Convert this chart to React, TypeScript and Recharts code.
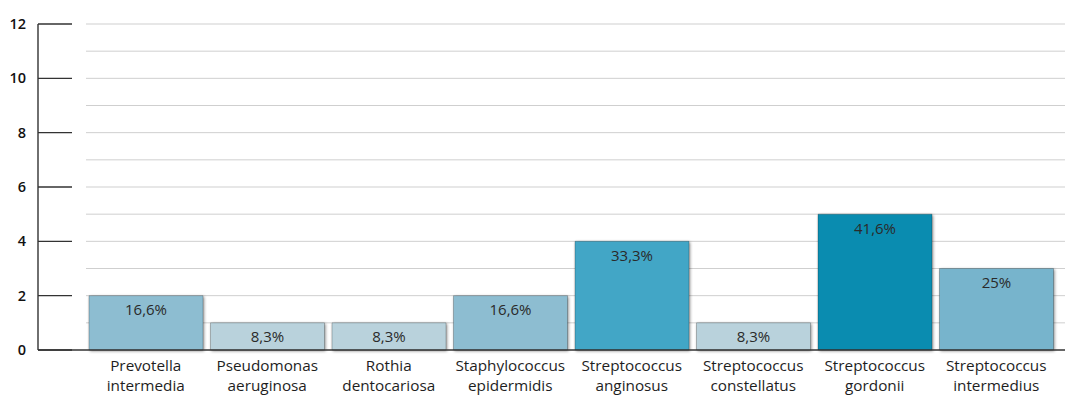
import React from "react";
import { BarChart, Bar, XAxis, YAxis, CartesianGrid, Cell, LabelList } from "recharts";

const categories = [
  "Prevotella|intermedia",
  "Pseudomonas|aeruginosa",
  "Rothia|dentocariosa",
  "Staphylococcus|epidermidis",
  "Streptococcus|anginosus",
  "Streptococcus|constellatus",
  "Streptococcus|gordonii",
  "Streptococcus|intermedius",
];
const values = [2, 1, 1, 2, 4, 1, 5, 3];
const percentLabels = ["16,6%", "8,3%", "8,3%", "16,6%", "33,3%", "8,3%", "41,6%", "25%"];
const barColors = ["#8dbdd1", "#b9d2dc", "#b9d2dc", "#8dbdd1", "#42a6c6", "#b9d2dc", "#0a8cb0", "#77b4cc"];
const yTicks = [0, 2, 4, 6, 8, 10, 12];
const gridValues = [1, 2, 3, 4, 5, 6, 7, 8, 9, 10, 11, 12];

const data = categories.map((c, i) => ({ name: c, value: values[i], label: percentLabels[i] }));

const FONT = "'Open Sans', 'Noto Sans', sans-serif";

const XTick = (props: any) => {
  const { x, y, payload } = props;
  const [a, b] = String(payload.value).split("|");
  return (
    <text x={x} y={y} textAnchor="middle" fill="#1e1e1e" fontSize={15.3} fontFamily={FONT}>
      <tspan x={x} dy={21}>{a}</tspan>
      <tspan x={x} dy={20}>{b}</tspan>
    </text>
  );
};

const YTick = (props: any) => {
  const { x, y, payload } = props;
  return (
    <g>
      <line x1={x} x2={x + 34} y1={y} y2={y} stroke="#333" strokeWidth={1.4} />
      <text x={x - 12} y={y} dy={5} textAnchor="end" fill="#111" fontSize={14.5} fontWeight={600} fontFamily={FONT}>
        {payload.value}
      </text>
    </g>
  );
};

export default function App() {
  return (
    <div style={{ position: "absolute", left: 0, top: 0, background: "#fff" }}>
      <BarChart
        width={1075}
        height={396}
        data={data}
        margin={{ top: 24, right: 10, bottom: 0, left: 0 }}
        barCategoryGap={4}
      >
        <CartesianGrid
          vertical={false}
          horizontalValues={gridValues}
          stroke="#cfcfcf"
          strokeWidth={1}
          x={86}
          width={979}
        />
        <XAxis
          dataKey="name"
          tick={<XTick />}
          tickLine={false}
          tickSize={0}
          tickMargin={0}
          interval={0}
          height={46}
          padding={{ left: 47, right: 8 }}
          axisLine={{ stroke: "#333", strokeWidth: 1.4 }}
        />
        <YAxis
          domain={[0, 12]}
          ticks={yTicks}
          width={38}
          tick={<YTick />}
          tickLine={false}
          tickSize={0}
          tickMargin={0}
          axisLine={{ stroke: "#333", strokeWidth: 1.4 }}
        />
        <Bar dataKey="value" isAnimationActive={false} stroke="rgba(0,0,0,0.22)" strokeWidth={1}>
          {data.map((d, i) => (
            <Cell
              key={i}
              fill={barColors[i]}
              style={{ filter: "drop-shadow(1px 1px 1.5px rgba(0,0,0,0.45))" }}
            />
          ))}
          <LabelList dataKey="label" position="insideTop" offset={9} fill="#2a2a2a" fontSize={15} fontFamily={FONT} />
        </Bar>
      </BarChart>
    </div>
  );
}
